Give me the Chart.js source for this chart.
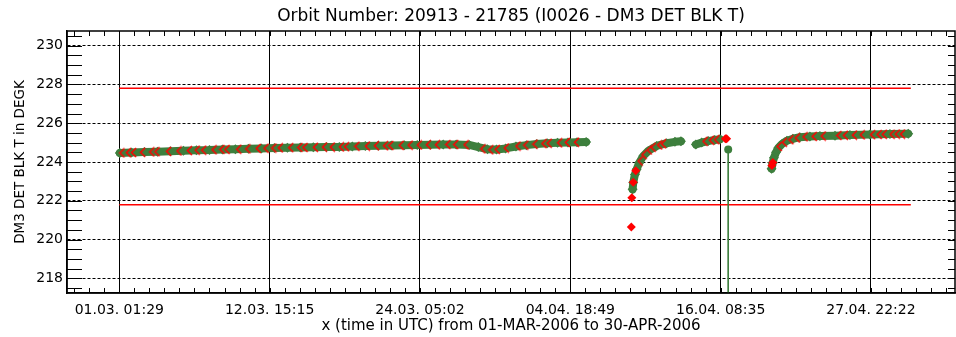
<!DOCTYPE html>
<html>
<head>
<meta charset="utf-8">
<script src="https://cdn.jsdelivr.net/npm/chart.js"></script>
<style>
  body { margin: 0; background: #fff; }
  canvas { display: block; }
</style>
</head>
<body>
<canvas id="orbitChart" width="956" height="337"></canvas>
<script>
// x values are days since 01.03.2006 00:00 UTC
const xTickDays = [0.0618, 11.635, 23.2097, 34.784, 46.358, 57.932];
const xTickLabels = ['01.03. 01:29', '12.03. 15:15', '24.03. 05:02', '04.04. 18:49', '16.04. 08:35', '27.04. 22:22'];
const yTickVals = [218, 220, 222, 224, 226, 228, 230];
const yTickLabels = ['218', '220', '222', '224', '226', '228', '230'];

// green trace (null = data gap)
const greenDays = [
  0.1, 1, 2, 3, 4, 5, 6, 7, 8, 9, 10, 11, 12, 13, 14, 15, 16, 17, 18, 19, 20,
  21, 22, 23, 24, 25, 26, 27, 27.7, 28.4, 29.1, 29.8, 30.6, 31.4, 32.2, 33.0,
  33.8, 34.6, 35.3, 36.0,
  37.5,
  39.58, 39.63, 39.76, 39.89, 40.09, 40.4, 40.79, 41.43, 42.2, 42.84, 43.3,
  43.9,
  44.45, 44.9, 45.4, 45.9, 46.3,
  48.0,
  50.28, 50.36, 50.46, 50.62, 50.79, 51.08, 51.46, 51.92, 52.46, 53.23, 54.0,
  55.16, 56.31, 57.85, 59.39, 60.8
];
const greenVals = [
  224.46, 224.49, 224.51, 224.53, 224.55, 224.58, 224.61, 224.62, 224.65, 224.66,
  224.68, 224.70, 224.72, 224.74, 224.75, 224.76, 224.77, 224.78, 224.80, 224.82,
  224.84, 224.85, 224.87, 224.88, 224.89, 224.90, 224.90, 224.88, 224.77, 224.66,
  224.64, 224.70, 224.80, 224.87, 224.93, 224.97, 224.99, 225.01, 225.02, 225.03,
  null,
  222.59, 222.94, 223.36, 223.62, 223.96, 224.31, 224.57, 224.83, 224.97, 225.04, 225.07,
  null,
  224.90, 225.00, 225.08, 225.14, 225.17,
  null,
  223.65, 223.95, 224.22, 224.50, 224.72, 224.93, 225.10, 225.20, 225.28, 225.32,
  225.34, 225.36, 225.39, 225.42, 225.44, 225.46
];

// green outlier that runs off the bottom
const dropDays = [46.94, 46.94];
const dropVals = [224.65, 205];

// red trace
const redDays = [
  0.3, 0.8, 1.2, 1.9, 2.6, 3.0, 3.9, 4.7, 5.5, 6.1, 6.6, 7.4, 8.0, 8.4, 9.3, 10.0,
  10.8, 11.4, 12.0, 12.5, 13.3, 14.0, 14.4, 15.2, 15.9, 16.5, 17.2, 17.6, 18.4,
  19.2, 19.9, 20.6, 21.0, 21.8, 22.5, 23.2, 23.9, 24.6, 25.4, 26.0, 26.8, 28.1,
  28.7, 29.2, 29.9, 30.8, 31.4, 32.1, 32.8, 33.2, 34.0, 34.6, 35.3,
  40.2, 40.5, 40.9, 41.2, 41.7, 42.0,
  45.2, 45.7, 46.1,
  50.9, 51.3, 51.8, 52.3, 52.9, 53.6, 54.3, 55.5, 56.0, 56.7, 57.3, 58.1, 58.6,
  59.0, 59.6, 60.0, 60.4
];
const redVals = [
  224.47, 224.48, 224.49, 224.50, 224.52, 224.53, 224.55, 224.57, 224.59, 224.61,
  224.61, 224.63, 224.65, 224.65, 224.66, 224.68, 224.70, 224.71, 224.72, 224.73,
  224.74, 224.75, 224.75, 224.76, 224.77, 224.77, 224.78, 224.79, 224.81, 224.82,
  224.84, 224.84, 224.85, 224.86, 224.87, 224.88, 224.89, 224.89, 224.90, 224.90,
  224.89, 224.68, 224.63, 224.65, 224.72, 224.82, 224.87, 224.92, 224.95, 224.97,
  224.99, 225.01, 225.02,
  224.05, 224.38, 224.62, 224.76, 224.88, 224.94,
  225.07, 225.12, 225.15,
  224.80, 225.02, 225.15, 225.24, 225.30, 225.32, 225.34, 225.37, 225.38, 225.39,
  225.40, 225.41, 225.42, 225.43, 225.43, 225.44, 225.44
];
// red points not hidden behind the green trace
const redFullDays = [39.48, 39.52, 39.63, 39.82, 46.72, 46.82, 50.3, 50.38];
const redFullVals = [220.65, 222.16, 222.95, 223.55, 225.2, 225.2, 223.82, 223.98];

// limit lines
const limitDays = [0.06, 61.0];
const upperLimit = [227.8, 227.8];
const lowerLimit = [221.8, 221.8];

const GREEN = '#3d7f3d';
const RED = '#ff0000';
const FONT = "'DejaVu Sans', sans-serif";

function pts(xs, ys) {
  return xs.map((x, i) => ({ x: x, y: ys[i] }));
}

// red "<" marker (left half of a diamond)
const chev = document.createElement('canvas');
chev.width = 8;
chev.height = 11;
const cc = chev.getContext('2d');
cc.strokeStyle = RED;
cc.lineWidth = 1.6;
cc.beginPath();
cc.moveTo(6, 1);
cc.lineTo(1.5, 5.5);
cc.lineTo(6, 10);
cc.stroke();

// frame + inward minor ticks, like the IDL plot
const frameTicks = {
  id: 'frameTicks',
  afterDraw(chart) {
    const { ctx, chartArea: a, scales: { x, y } } = chart;
    ctx.save();
    ctx.strokeStyle = '#000';
    ctx.lineWidth = 1;
    ctx.beginPath();
    const step = (xTickDays[1] - xTickDays[0]) / 10;
    let v = xTickDays[0] - Math.floor((xTickDays[0] - x.min) / step) * step;
    for (; v <= x.max; v += step) {
      const px = Math.round(x.getPixelForValue(v)) + 0.5;
      ctx.moveTo(px, a.bottom);
      ctx.lineTo(px, a.bottom - 5);
      ctx.moveTo(px, a.top);
      ctx.lineTo(px, a.top + 5);
    }
    for (let w = Math.ceil(y.min * 2) / 2; w <= y.max; w += 0.5) {
      const py = Math.round(y.getPixelForValue(w)) + 0.5;
      ctx.moveTo(a.left, py);
      ctx.lineTo(a.left + 15, py);
      ctx.moveTo(a.right, py);
      ctx.lineTo(a.right - 7, py);
    }
    ctx.stroke();
    ctx.lineWidth = 1.5;
    ctx.strokeRect(a.left, a.top, a.right - a.left, a.bottom - a.top);
    ctx.restore();
  }
};

const noPad = s => {
  s.paddingLeft = 0;
  s.paddingRight = 0;
  s.paddingTop = 0;
  s.paddingBottom = 0;
};

const ctx = document.getElementById('orbitChart');
const chart = new Chart(ctx, {
  type: 'line',
  data: {
    datasets: [
      {
        label: 'upper limit',
        data: pts(limitDays, upperLimit),
        borderColor: RED,
        borderWidth: 1.5,
        pointRadius: 0,
        order: 5
      },
      {
        label: 'lower limit',
        data: pts(limitDays, lowerLimit),
        borderColor: RED,
        borderWidth: 1.5,
        pointRadius: 0,
        order: 5
      },
      {
        label: 'green',
        data: pts(greenDays, greenVals),
        borderColor: GREEN,
        backgroundColor: GREEN,
        borderWidth: 8,
        borderCapStyle: 'round',
        borderJoinStyle: 'round',
        pointStyle: 'rectRot',
        pointRadius: 5,
        pointBorderWidth: 0,
        spanGaps: false,
        order: 4
      },
      {
        label: 'green drop',
        data: pts(dropDays, dropVals),
        borderColor: GREEN,
        backgroundColor: GREEN,
        borderWidth: 1,
        pointStyle: 'circle',
        pointRadius: [4, 0],
        pointBorderWidth: 0,
        order: 3
      },
      {
        label: 'red',
        data: pts(redDays, redVals),
        showLine: false,
        pointStyle: chev,
        pointRadius: 3,
        order: 2
      },
      {
        label: 'red full',
        data: pts(redFullDays, redFullVals),
        showLine: false,
        pointStyle: 'rectRot',
        pointRadius: 4.5,
        pointBorderWidth: 0,
        backgroundColor: RED,
        borderColor: RED,
        order: 1
      }
    ]
  },
  options: {
    responsive: false,
    animation: false,
    events: [],
    layout: { autoPadding: false, padding: { left: 0, right: 1, top: 0, bottom: 0 } },
    plugins: {
      legend: { display: false },
      tooltip: { enabled: false },
      title: {
        display: true,
        fullSize: false,
        text: 'Orbit Number: 20913 - 21785 (I0026 - DM3 DET BLK T)',
        color: '#000',
        font: { family: FONT, size: 17, weight: 'normal', lineHeight: 1.2 },
        padding: { top: 6, bottom: 4.6 }
      }
    },
    scales: {
      x: {
        type: 'linear',
        min: -3.964,
        max: 64.40,
        afterBuildTicks: s => { s.ticks = xTickDays.map(v => ({ value: v })); },
        afterFit: s => { s.height = 44; noPad(s); },
        ticks: {
          callback: (v, i) => xTickLabels[i],
          autoSkip: false,
          maxRotation: 0,
          color: '#000',
          padding: 9,
          font: { family: FONT, size: 14 }
        },
        grid: { color: '#000', lineWidth: 1, drawTicks: false },
        border: { display: true, color: '#000', width: 1.5 },
        title: {
          display: true,
          text: 'x (time in UTC) from 01-MAR-2006 to 30-APR-2006',
          color: '#000',
          font: { family: FONT, size: 15 },
          padding: { top: 0, bottom: 1.5 }
        }
      },
      y: {
        type: 'linear',
        min: 217.24,
        max: 230.76,
        afterBuildTicks: s => { s.ticks = yTickVals.map(v => ({ value: v })); },
        afterFit: s => { s.width = 67; noPad(s); },
        ticks: {
          callback: (v, i) => yTickLabels[i],
          color: '#000',
          padding: 4,
          font: { family: FONT, size: 14 }
        },
        grid: { color: '#000', lineWidth: 1, drawTicks: false },
        border: { display: true, color: '#000', width: 1.5, dash: [3, 2] },
        title: {
          display: true,
          text: 'DM3 DET BLK T in DEGK',
          color: '#000',
          font: { family: FONT, size: 13.5 },
          padding: { top: 12, bottom: 0 }
        }
      }
    }
  },
  plugins: [frameTicks]
});
</script>
</body>
</html>
